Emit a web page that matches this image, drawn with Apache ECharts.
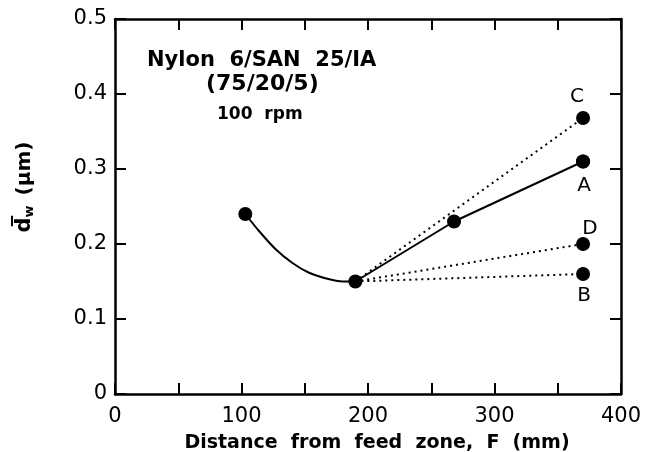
<!DOCTYPE html>
<html>
<head>
<meta charset="utf-8">
<script src="https://cdn.jsdelivr.net/npm/echarts@6/dist/echarts.min.js"></script>
<style>
  html, body { margin: 0; padding: 0; background: #fff; }
  #chart { width: 647px; height: 452px; }
</style>
</head>
<body>
<div id="chart"></div>
<script>
// fitted curve (feed zone to minimum)
const curveF = [103, 114, 127, 140, 153, 167, 180, 190];
const curveD = [0.24, 0.217, 0.193, 0.175, 0.162, 0.154, 0.150, 0.150];

// measured points, path A (solid)
const pathAF = [190, 268, 370];
const pathAD = [0.15, 0.23, 0.31];
const firstF = 103;
const firstD = 0.24;

// dotted paths from the minimum to the die end
const startF = 190;
const startD = 0.15;
const endF = 370;
const endNames = ['C', 'D', 'B'];
const endD = [0.368, 0.20, 0.16];

const xTicks = [0, 100, 200, 300, 400];
const yTicks = [0, 0.1, 0.2, 0.3, 0.4, 0.5];

const chart = echarts.init(document.getElementById('chart'));
const font = 'DejaVu Sans';
const ink = '#000';

// label offsets from the marker centre
const labelShift = {
  A: [1, 24],
  B: [1, 22],
  C: [-6, -21],
  D: [7, -15]
};

function axisBase(extra) {
  return Object.assign({
    axisLine: { show: true, onZero: false, lineStyle: { color: ink, width: 2.5 } },
    axisTick: { show: true, inside: true, length: 11, lineStyle: { color: ink, width: 2 } },
    splitLine: { show: false }
  }, extra);
}

const dotted = endNames.map((n, i) => ({
  type: 'line',
  name: n,
  data: [[startF, startD], [endF, endD[i]]],
  symbol: 'none',
  lineStyle: { color: ink, width: 2, type: [2, 4] },
  z: 2
}));

const markers = [[firstF, firstD]].concat(pathAF.map((f, i) => [f, pathAD[i]]));
const ends = endNames.map((n, i) => ({ value: [endF, endD[i]], name: n }));
ends.push({ value: [endF, pathAD[pathAD.length - 1]], name: 'A' });

chart.setOption({
  animation: false,
  backgroundColor: '#fff',
  grid: { left: 115, right: 26, top: 19, bottom: 58, outerBoundsMode: 'none', containLabel: false },
  xAxis: [
    axisBase({
      type: 'value', min: 0, max: 400, interval: 50, position: 'bottom',
      name: 'Distance  from  feed  zone,  F  (mm)',
      nameLocation: 'middle', nameGap: 40,
      nameTextStyle: { fontFamily: font, fontWeight: 'bold', fontSize: 19, color: ink, padding: [0, 0, 0, 18] },
      axisLabel: {
        fontFamily: font, fontSize: 21, color: ink, margin: 12,
        formatter: v => xTicks.indexOf(v) >= 0 ? String(v) : ''
      }
    }),
    axisBase({
      type: 'value', min: 0, max: 400, interval: 50, position: 'top',
      axisLabel: { show: false }
    })
  ],
  yAxis: [
    axisBase({
      type: 'value', min: 0, max: 0.5, interval: 0.1, position: 'left',
      axisLabel: {
        fontFamily: font, fontSize: 21, color: ink, margin: 8,
        formatter: v => {
          const t = yTicks.find(k => Math.abs(k - v) < 1e-6);
          return t === 0 ? '0' : t.toFixed(1);
        }
      }
    }),
    axisBase({
      type: 'value', min: 0, max: 0.5, interval: 0.1, position: 'right',
      axisLabel: { show: false }
    })
  ],
  series: [
    {
      type: 'line',
      data: curveF.map((f, i) => [f, curveD[i]]),
      smooth: 0.3,
      symbol: 'none',
      lineStyle: { color: ink, width: 2 },
      z: 3
    },
    {
      type: 'line',
      data: pathAF.map((f, i) => [f, pathAD[i]]),
      symbol: 'none',
      lineStyle: { color: ink, width: 2 },
      z: 3
    }
  ].concat(dotted).concat([
    {
      type: 'scatter',
      data: markers,
      symbol: 'circle',
      symbolSize: 14,
      itemStyle: { color: ink, opacity: 1 },
      z: 5
    },
    {
      type: 'scatter',
      data: ends.map(d => Object.assign({}, d, {
        label: {
          show: true, formatter: '{b}', fontFamily: font, fontSize: 20, color: ink,
          position: 'inside', offset: labelShift[d.name]
        }
      })),
      symbol: 'circle',
      symbolSize: 14,
      itemStyle: { color: ink, opacity: 1 },
      z: 5
    }
  ]),
  graphic: [
    {
      type: 'text', left: 147, top: 50,
      style: { text: 'Nylon  6/SAN  25/IA', font: 'bold 21px "DejaVu Sans"', fill: ink }
    },
    {
      type: 'text', left: 206, top: 73,
      style: { text: '(75/20/5)', font: 'bold 22px "DejaVu Sans"', fill: ink }
    },
    {
      type: 'text', left: 217, top: 106,
      style: { text: '100  rpm', font: 'bold 17px "DejaVu Sans"', fill: ink }
    },
    {
      type: 'text', x: 25, y: 187, rotation: Math.PI / 2,
      style: {
        text: '{d|d\u0305}{w|w}   {u|(\u03bcm)}',
        align: 'center', verticalAlign: 'middle', fill: ink,
        rich: {
          d: { fontFamily: font, fontWeight: 'bold', fontSize: 21, fill: ink },
          w: { fontFamily: font, fontWeight: 'bold', fontSize: 13, fill: ink, padding: [9, 0, 0, 0] },
          u: { fontFamily: font, fontWeight: 'bold', fontSize: 20, fill: ink }
        }
      }
    }
  ]
});
</script>
</body>
</html>
